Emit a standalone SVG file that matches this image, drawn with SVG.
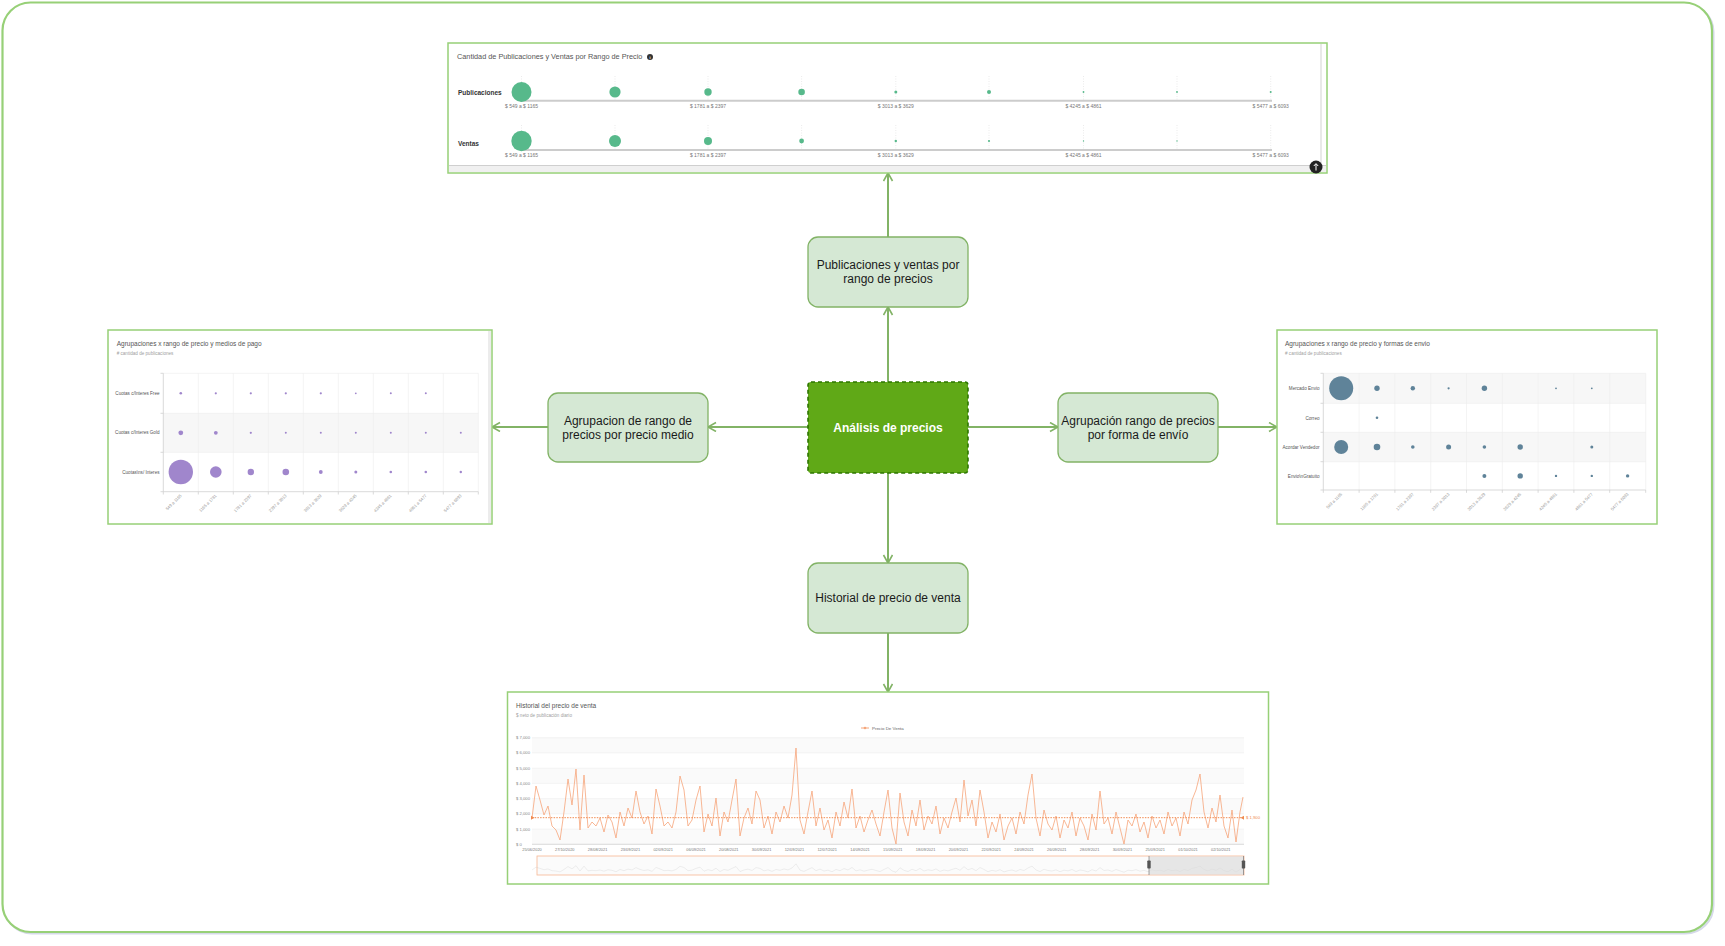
<svg xmlns="http://www.w3.org/2000/svg" xmlns:xlink="http://www.w3.org/1999/xlink" width="1725" height="946" viewBox="0 0 1725 946">
<style>
text{font-family:"Liberation Sans",Arial,sans-serif}
.node{fill:#d5e8d4;stroke:#82b366;stroke-width:1.3}
.ntxt{font-size:12px;fill:#1a1a1a;text-anchor:middle}
.shot{fill:#fff;stroke:#97d077;stroke-width:1.5}
.conn{stroke:#82b366;stroke-width:2;fill:none;marker-end:url(#arr)}
.t1{font-size:6.5px;fill:#555}
.t2{font-size:4.6px;fill:#a0a0a0}
.tiny{font-size:5px;fill:#777}
.lbl{font-size:4.6px;fill:#555;text-anchor:end}
.grid{stroke:#ececec;stroke-width:0.6}
.axis{stroke:#cfcfcf;stroke-width:0.8}
.band{fill:#f7f7f7}
.band2{fill:#fafafa}
.pg circle{fill:#57b98b}
.pp circle{fill:#a086cc}
.pb circle{fill:#5f8399}
.vd{stroke:#ddd;stroke-width:0.6;stroke-dasharray:1 1.5}
.rot{font-size:4.2px;fill:#999;text-anchor:end}
.dt{font-size:3.9px;fill:#777;text-anchor:middle}
</style>
<defs>
<marker id="arr" markerWidth="12" markerHeight="12" refX="9" refY="5" orient="auto" markerUnits="userSpaceOnUse">
<path d="M1,0.5 L9,5 L1,9.5" fill="none" stroke="#82b366" stroke-width="1.6"/>
</marker>
<path id="series" d="M532,818 L536,786 L540,800 L544,815 L548,806 L552,826 L556,830 L560,840 L564,812 L568,779 L572,805 L576,769 L580,830 L584,775 L588,828 L592,822 L596,826 L600,818 L604,832 L608,815 L612,822 L616,838 L620,812 L624,826 L628,808 L632,818 L636,791 L640,812 L644,824 L648,816 L652,834 L656,789 L660,806 L664,826 L668,822 L672,828 L676,812 L680,776 L684,790 L688,826 L692,820 L696,800 L700,786 L704,832 L708,814 L712,826 L716,798 L720,836 L724,812 L728,822 L732,800 L736,779 L740,836 L744,818 L748,808 L752,824 L756,791 L760,800 L764,828 L768,816 L772,834 L776,812 L780,822 L784,806 L788,818 L792,795 L796,748 L800,820 L804,834 L808,812 L812,791 L816,826 L820,808 L824,830 L828,820 L832,838 L836,812 L840,826 L844,802 L848,818 L852,789 L856,828 L860,816 L864,832 L868,820 L872,810 L876,824 L880,836 L884,812 L888,790 L892,828 L896,844 L900,793 L904,822 L908,836 L912,810 L916,826 L920,800 L924,830 L928,816 L932,824 L936,806 L940,834 L944,818 L948,828 L952,812 L956,798 L960,822 L964,780 L968,816 L972,800 L976,826 L980,790 L984,812 L988,838 L992,822 L996,832 L1000,814 L1004,840 L1008,826 L1012,818 L1016,834 L1020,812 L1024,824 L1028,795 L1032,774 L1036,818 L1040,836 L1044,810 L1048,824 L1052,830 L1056,816 L1060,838 L1064,820 L1068,828 L1072,812 L1076,836 L1080,818 L1084,826 L1088,840 L1092,814 L1096,830 L1100,791 L1104,824 L1108,818 L1112,834 L1116,812 L1120,828 L1124,844 L1128,820 L1132,826 L1136,814 L1140,832 L1144,822 L1148,838 L1152,816 L1156,828 L1160,820 L1164,834 L1168,812 L1172,826 L1176,818 L1180,836 L1184,812 L1188,824 L1192,800 L1196,790 L1200,774 L1204,812 L1208,828 L1212,808 L1216,822 L1220,795 L1224,826 L1228,838 L1232,810 L1236,842 L1240,812 L1243,797"/>
</defs>

<rect width="1725" height="946" fill="#fff"/>

<g id="frame">
<rect x="4" y="4" width="1709.5" height="929.5" rx="28" fill="none" stroke="#d6d9ea" stroke-width="2"/>
<rect x="2.5" y="2.5" width="1709.5" height="929.5" rx="28" fill="#fff" stroke="#97d077" stroke-width="2.2"/>
</g>

<g id="connectors">
<line class="conn" x1="888" y1="382" x2="888" y2="307"/>
<line class="conn" x1="888" y1="237" x2="888" y2="173"/>
<line class="conn" x1="808" y1="427" x2="708" y2="427"/>
<line class="conn" x1="548" y1="427" x2="492" y2="427"/>
<line class="conn" x1="968" y1="427" x2="1058" y2="427"/>
<line class="conn" x1="1218" y1="427" x2="1277" y2="427"/>
<line class="conn" x1="888" y1="473" x2="888" y2="563"/>
<line class="conn" x1="888" y1="633" x2="888" y2="692"/>
</g>

<g id="node-center">
<rect x="808" y="382" width="160" height="91" rx="3" fill="#60a917" stroke="#2d7600" stroke-width="1.6" stroke-dasharray="4 3"/>
<text x="888" y="431.5" style="font-size:12px;font-weight:bold;fill:#fff;text-anchor:middle">Análisis de precios</text>
</g>

<g id="node-top">
<rect class="node" x="808" y="237" width="160" height="70" rx="10"/>
<text class="ntxt" x="888" y="269">Publicaciones y ventas por</text>
<text class="ntxt" x="888" y="283">rango de precios</text>
</g>

<g id="node-left">
<rect class="node" x="548" y="393" width="160" height="69" rx="10"/>
<text class="ntxt" x="628" y="424.5">Agrupacion de rango de</text>
<text class="ntxt" x="628" y="438.5">precios por precio medio</text>
</g>

<g id="node-right">
<rect class="node" x="1058" y="393" width="160" height="69" rx="10"/>
<text class="ntxt" x="1138" y="424.5">Agrupación rango de precios</text>
<text class="ntxt" x="1138" y="438.5">por forma de envío</text>
</g>

<g id="node-bottom">
<rect class="node" x="808" y="563" width="160" height="70" rx="10"/>
<text class="ntxt" x="888" y="602">Historial de precio de venta</text>
</g>

<g id="shot-top">
<rect class="shot" x="448" y="43" width="879" height="130"/>
<line x1="1321" y1="44" x2="1321" y2="172" stroke="#e2e2e2" stroke-width="1.5"/>
<rect x="449" y="165" width="877" height="7" fill="#f0f0f0"/>
<line x1="449" y1="165.5" x2="1326" y2="165.5" stroke="#cfcfcf" stroke-width="1"/>
<text x="457" y="59" style="font-size:7.3px;fill:#555">Cantidad de Publicaciones y Ventas por Rango de Precio</text>
<circle cx="650" cy="57" r="3" fill="#333"/>
<text x="650" y="58.6" style="font-size:4px;fill:#fff;text-anchor:middle;font-weight:bold">i</text>
<text x="458" y="94.5" style="font-size:6.5px;fill:#333;font-weight:bold">Publicaciones</text>
<text x="458" y="145.5" style="font-size:6.5px;fill:#333;font-weight:bold">Ventas</text>
<g>
<line class="vd" x1="521.5" y1="76" x2="521.5" y2="100"/><line class="vd" x1="615" y1="76" x2="615" y2="100"/><line class="vd" x1="708" y1="76" x2="708" y2="100"/><line class="vd" x1="801.6" y1="76" x2="801.6" y2="100"/><line class="vd" x1="895.8" y1="76" x2="895.8" y2="100"/><line class="vd" x1="989" y1="76" x2="989" y2="100"/><line class="vd" x1="1083.5" y1="76" x2="1083.5" y2="100"/><line class="vd" x1="1177" y1="76" x2="1177" y2="100"/><line class="vd" x1="1270.7" y1="76" x2="1270.7" y2="100"/>
<line class="vd" x1="521.5" y1="125" x2="521.5" y2="149"/><line class="vd" x1="615" y1="125" x2="615" y2="149"/><line class="vd" x1="708" y1="125" x2="708" y2="149"/><line class="vd" x1="801.6" y1="125" x2="801.6" y2="149"/><line class="vd" x1="895.8" y1="125" x2="895.8" y2="149"/><line class="vd" x1="989" y1="125" x2="989" y2="149"/><line class="vd" x1="1083.5" y1="125" x2="1083.5" y2="149"/><line class="vd" x1="1177" y1="125" x2="1177" y2="149"/><line class="vd" x1="1270.7" y1="125" x2="1270.7" y2="149"/>
</g>
<line x1="520" y1="100.7" x2="1272" y2="100.7" stroke="#cccccc" stroke-width="2"/>
<line x1="520" y1="150" x2="1272" y2="150" stroke="#cccccc" stroke-width="2"/>
<g class="pg">
<circle cx="521.5" cy="92" r="10"/><circle cx="615" cy="92" r="5.6"/><circle cx="708" cy="92" r="3.7"/><circle cx="801.6" cy="92" r="3.3"/><circle cx="895.8" cy="92" r="1.5"/><circle cx="989" cy="92" r="2"/><circle cx="1083.5" cy="92" r="0.9"/><circle cx="1177" cy="92" r="0.9"/><circle cx="1270.7" cy="92" r="1"/>
<circle cx="521.5" cy="141" r="10.2"/><circle cx="615" cy="141" r="6"/><circle cx="708" cy="141" r="4"/><circle cx="801.6" cy="141" r="2.4"/><circle cx="895.8" cy="141" r="1.2"/><circle cx="989" cy="141" r="1.1"/><circle cx="1083.5" cy="141" r="0.7"/><circle cx="1177" cy="141" r="0.7"/>
</g>
<g class="tiny" text-anchor="middle">
<text x="521.5" y="107.8">$ 549 a $ 1165</text><text x="708" y="107.8">$ 1781 a $ 2397</text><text x="895.8" y="107.8">$ 3013 a $ 3629</text><text x="1083.5" y="107.8">$ 4245 a $ 4861</text><text x="1270.7" y="107.8">$ 5477 a $ 6093</text>
<text x="521.5" y="157.3">$ 549 a $ 1165</text><text x="708" y="157.3">$ 1781 a $ 2397</text><text x="895.8" y="157.3">$ 3013 a $ 3629</text><text x="1083.5" y="157.3">$ 4245 a $ 4861</text><text x="1270.7" y="157.3">$ 5477 a $ 6093</text>
</g>
<circle cx="1316" cy="167" r="6.5" fill="#222"/>
<path d="M1316,170.5 L1316,164 M1313.8,166 L1316,163.6 L1318.2,166" stroke="#fff" stroke-width="1" fill="none"/>
</g>

<g id="shot-left">
<rect class="shot" x="108" y="330" width="384" height="194"/>
<rect x="488" y="331" width="3" height="192" fill="#ececec"/>
<text class="t1" x="116.7" y="346">Agrupaciones x rango de precio y medios de pago</text>
<text class="t2" x="116.7" y="355"># cantidad de publicaciones</text>
<rect class="band" x="163.3" y="413.3" width="315" height="39"/>
<g class="grid">
<line x1="163.3" y1="373.3" x2="478.3" y2="373.3"/><line x1="163.3" y1="413.3" x2="478.3" y2="413.3"/><line x1="163.3" y1="452.3" x2="478.3" y2="452.3"/>
<line x1="198.3" y1="373.3" x2="198.3" y2="491.7"/><line x1="233.3" y1="373.3" x2="233.3" y2="491.7"/><line x1="268.3" y1="373.3" x2="268.3" y2="491.7"/><line x1="303.3" y1="373.3" x2="303.3" y2="491.7"/><line x1="338.3" y1="373.3" x2="338.3" y2="491.7"/><line x1="373.3" y1="373.3" x2="373.3" y2="491.7"/><line x1="408.3" y1="373.3" x2="408.3" y2="491.7"/><line x1="443.3" y1="373.3" x2="443.3" y2="491.7"/><line x1="478.3" y1="373.3" x2="478.3" y2="491.7"/>
</g>
<g class="axis">
<line x1="163.3" y1="373.3" x2="163.3" y2="491.7"/><line x1="163.3" y1="491.7" x2="478.3" y2="491.7"/>
<line x1="160.5" y1="373.3" x2="163.3" y2="373.3"/><line x1="160.5" y1="413.3" x2="163.3" y2="413.3"/><line x1="160.5" y1="452.3" x2="163.3" y2="452.3"/><line x1="160.5" y1="491.7" x2="163.3" y2="491.7"/>
<line x1="163.3" y1="491.7" x2="163.3" y2="494.5"/><line x1="198.3" y1="491.7" x2="198.3" y2="494.5"/><line x1="233.3" y1="491.7" x2="233.3" y2="494.5"/><line x1="268.3" y1="491.7" x2="268.3" y2="494.5"/><line x1="303.3" y1="491.7" x2="303.3" y2="494.5"/><line x1="338.3" y1="491.7" x2="338.3" y2="494.5"/><line x1="373.3" y1="491.7" x2="373.3" y2="494.5"/><line x1="408.3" y1="491.7" x2="408.3" y2="494.5"/><line x1="443.3" y1="491.7" x2="443.3" y2="494.5"/><line x1="478.3" y1="491.7" x2="478.3" y2="494.5"/>
</g>
<text class="lbl" x="159.5" y="395">Cuotas c/Interes Free</text>
<text class="lbl" x="159.5" y="434.4">Cuotas c/Interes Gold</text>
<text class="lbl" x="159.5" y="473.6">Cuotas\ns/ Interes</text>
<g class="pp">
<circle cx="180.8" cy="393.3" r="1.3"/><circle cx="215.8" cy="393.3" r="1.1"/><circle cx="250.8" cy="393.3" r="1.1"/><circle cx="285.8" cy="393.3" r="1.1"/><circle cx="320.8" cy="393.3" r="1.1"/><circle cx="355.8" cy="393.3" r="0.9"/><circle cx="390.8" cy="393.3" r="1"/><circle cx="425.8" cy="393.3" r="1"/>
<circle cx="180.8" cy="432.8" r="2.4"/><circle cx="215.8" cy="432.8" r="1.9"/><circle cx="250.8" cy="432.8" r="1.1"/><circle cx="285.8" cy="432.8" r="1"/><circle cx="320.8" cy="432.8" r="1"/><circle cx="355.8" cy="432.8" r="1"/><circle cx="390.8" cy="432.8" r="1"/><circle cx="425.8" cy="432.8" r="1"/><circle cx="460.8" cy="432.8" r="1"/>
<circle cx="180.8" cy="472" r="12.2"/><circle cx="215.8" cy="472" r="5.8"/><circle cx="250.8" cy="472" r="3.2"/><circle cx="285.8" cy="472" r="3.3"/><circle cx="320.8" cy="472" r="1.9"/><circle cx="355.8" cy="472" r="1.5"/><circle cx="390.8" cy="472" r="1.3"/><circle cx="425.8" cy="472" r="1.3"/><circle cx="460.8" cy="472" r="1.2"/>
</g>
<g class="rot">
<text transform="translate(182,496) rotate(-45)">549 a 1165</text>
<text transform="translate(217,496) rotate(-45)">1165 a 1781</text>
<text transform="translate(252,496) rotate(-45)">1781 a 2397</text>
<text transform="translate(287,496) rotate(-45)">2397 a 3013</text>
<text transform="translate(322,496) rotate(-45)">3013 a 3629</text>
<text transform="translate(357,496) rotate(-45)">3629 a 4245</text>
<text transform="translate(392,496) rotate(-45)">4245 a 4861</text>
<text transform="translate(427,496) rotate(-45)">4861 a 5477</text>
<text transform="translate(462,496) rotate(-45)">5477 a 6093</text>
</g>
</g>

<g id="shot-right">
<rect class="shot" x="1277" y="330" width="380" height="194"/>
<text class="t1" x="1285" y="346">Agrupaciones x rango de precio y formas de envio</text>
<text class="t2" x="1285" y="355"># cantidad de publicaciones</text>
<rect class="band" x="1323.3" y="373.3" width="322.4" height="30"/>
<rect class="band" x="1323.3" y="432.3" width="322.4" height="29.4"/>
<g class="grid">
<line x1="1323.3" y1="373.3" x2="1645.7" y2="373.3"/><line x1="1323.3" y1="403.3" x2="1645.7" y2="403.3"/><line x1="1323.3" y1="432.3" x2="1645.7" y2="432.3"/><line x1="1323.3" y1="461.7" x2="1645.7" y2="461.7"/>
<line x1="1359.1" y1="373.3" x2="1359.1" y2="490"/><line x1="1394.9" y1="373.3" x2="1394.9" y2="490"/><line x1="1430.7" y1="373.3" x2="1430.7" y2="490"/><line x1="1466.5" y1="373.3" x2="1466.5" y2="490"/><line x1="1502.3" y1="373.3" x2="1502.3" y2="490"/><line x1="1538.1" y1="373.3" x2="1538.1" y2="490"/><line x1="1573.9" y1="373.3" x2="1573.9" y2="490"/><line x1="1609.7" y1="373.3" x2="1609.7" y2="490"/><line x1="1645.7" y1="373.3" x2="1645.7" y2="490"/>
</g>
<g class="axis">
<line x1="1323.3" y1="373.3" x2="1323.3" y2="490"/><line x1="1323.3" y1="490" x2="1645.7" y2="490"/>
<line x1="1320.5" y1="373.3" x2="1323.3" y2="373.3"/><line x1="1320.5" y1="403.3" x2="1323.3" y2="403.3"/><line x1="1320.5" y1="432.3" x2="1323.3" y2="432.3"/><line x1="1320.5" y1="461.7" x2="1323.3" y2="461.7"/><line x1="1320.5" y1="490" x2="1323.3" y2="490"/>
<line x1="1323.3" y1="490" x2="1323.3" y2="492.8"/><line x1="1359.1" y1="490" x2="1359.1" y2="492.8"/><line x1="1394.9" y1="490" x2="1394.9" y2="492.8"/><line x1="1430.7" y1="490" x2="1430.7" y2="492.8"/><line x1="1466.5" y1="490" x2="1466.5" y2="492.8"/><line x1="1502.3" y1="490" x2="1502.3" y2="492.8"/><line x1="1538.1" y1="490" x2="1538.1" y2="492.8"/><line x1="1573.9" y1="490" x2="1573.9" y2="492.8"/><line x1="1609.7" y1="490" x2="1609.7" y2="492.8"/><line x1="1645.7" y1="490" x2="1645.7" y2="492.8"/>
</g>
<text class="lbl" x="1319.5" y="390">Mercado Envio</text>
<text class="lbl" x="1319.5" y="419.5">Correo</text>
<text class="lbl" x="1319.5" y="448.7">Acordar Vendedor</text>
<text class="lbl" x="1319.5" y="477.6">Envio\nGratuito</text>
<g class="pb">
<circle cx="1341.2" cy="388.3" r="12"/><circle cx="1377" cy="388.3" r="2.7"/><circle cx="1412.8" cy="388.3" r="2.2"/><circle cx="1448.6" cy="388.3" r="1.1"/><circle cx="1484.4" cy="388.3" r="2.7"/><circle cx="1556" cy="388.3" r="0.9"/><circle cx="1591.8" cy="388.3" r="0.9"/>
<circle cx="1377" cy="417.8" r="1.3"/>
<circle cx="1341.2" cy="447" r="7"/><circle cx="1377" cy="447" r="3.3"/><circle cx="1412.8" cy="447" r="1.8"/><circle cx="1448.6" cy="447" r="2.5"/><circle cx="1484.4" cy="447" r="1.8"/><circle cx="1520.2" cy="447" r="2.7"/><circle cx="1591.8" cy="447" r="1.5"/>
<circle cx="1484.4" cy="475.9" r="2"/><circle cx="1520.2" cy="475.9" r="2.7"/><circle cx="1556" cy="475.9" r="1.2"/><circle cx="1591.8" cy="475.9" r="1.2"/><circle cx="1627.6" cy="475.9" r="1.7"/>
</g>
<g class="rot">
<text transform="translate(1342.5,494.5) rotate(-45)">549 a 1165</text>
<text transform="translate(1378.3,494.5) rotate(-45)">1165 a 1781</text>
<text transform="translate(1414.1,494.5) rotate(-45)">1781 a 2397</text>
<text transform="translate(1449.9,494.5) rotate(-45)">2397 a 3013</text>
<text transform="translate(1485.7,494.5) rotate(-45)">3013 a 3629</text>
<text transform="translate(1521.5,494.5) rotate(-45)">3629 a 4245</text>
<text transform="translate(1557.3,494.5) rotate(-45)">4245 a 4861</text>
<text transform="translate(1593.1,494.5) rotate(-45)">4861 a 5477</text>
<text transform="translate(1628.9,494.5) rotate(-45)">5477 a 6093</text>
</g>
</g>

<g id="shot-bottom">
<rect class="shot" x="507.5" y="692" width="761" height="192"/>
<text class="t1" x="516" y="708">Historial del precio de venta</text>
<text class="t2" x="516" y="716.5">$ neto de publicación diario</text>
<line x1="861" y1="728" x2="869" y2="728" stroke="#f5a77c" stroke-width="1"/>
<circle cx="865" cy="728" r="1.3" fill="#f5a77c"/>
<text x="872" y="729.6" style="font-size:4.4px;fill:#666">Precio De Venta</text>
<rect class="band2" x="532" y="737.7" width="712" height="15.2"/>
<rect class="band2" x="532" y="768.2" width="712" height="15.2"/>
<rect class="band2" x="532" y="798.7" width="712" height="15.2"/>
<rect class="band2" x="532" y="829.2" width="712" height="15.1"/>
<g class="grid">
<line x1="532" y1="737.7" x2="1244" y2="737.7"/><line x1="532" y1="752.9" x2="1244" y2="752.9"/><line x1="532" y1="768.2" x2="1244" y2="768.2"/><line x1="532" y1="783.4" x2="1244" y2="783.4"/><line x1="532" y1="798.6" x2="1244" y2="798.6"/><line x1="532" y1="813.9" x2="1244" y2="813.9"/><line x1="532" y1="829.1" x2="1244" y2="829.1"/>
</g>
<line class="axis" x1="532" y1="844.3" x2="1244" y2="844.3"/>
<g style="font-size:4.2px;fill:#888">
<text x="516" y="739.2">$ 7,000</text><text x="516" y="754.4">$ 6,000</text><text x="516" y="769.7">$ 5,000</text><text x="516" y="784.9">$ 4,000</text><text x="516" y="800.1">$ 3,000</text><text x="516" y="815.4">$ 2,000</text><text x="516" y="830.6">$ 1,000</text><text x="516" y="845.8">$ 0</text>
</g>
<use xlink:href="#series" href="#series" fill="none" stroke="#f6a47a" stroke-width="0.8"/>
<line x1="532" y1="817.7" x2="1243" y2="817.7" stroke="#f08a50" stroke-width="1" stroke-dasharray="1.5 1.2"/>
<path d="M531,815.7 L534.5,817.7 L531,819.7 Z M1244,815.7 L1240.5,817.7 L1244,819.7 Z" fill="#f08a50"/>
<text x="1246" y="819" style="font-size:4.2px;fill:#f08a50">$ 1,900</text>
<g class="dt">
<text x="532" y="850.5">25/06/2020</text><text x="564.8" y="850.5">27/10/2020</text><text x="597.6" y="850.5">28/08/2021</text><text x="630.4" y="850.5">23/09/2021</text><text x="663.2" y="850.5">02/09/2021</text><text x="696" y="850.5">06/09/2021</text><text x="728.8" y="850.5">20/08/2021</text><text x="761.6" y="850.5">30/09/2021</text><text x="794.4" y="850.5">12/09/2021</text><text x="827.2" y="850.5">12/07/2021</text><text x="860" y="850.5">14/09/2021</text><text x="892.8" y="850.5">15/09/2021</text><text x="925.6" y="850.5">18/09/2021</text><text x="958.4" y="850.5">20/09/2021</text><text x="991.2" y="850.5">22/09/2021</text><text x="1024" y="850.5">24/09/2021</text><text x="1056.8" y="850.5">26/09/2021</text><text x="1089.6" y="850.5">28/09/2021</text><text x="1122.4" y="850.5">30/09/2021</text><text x="1155.2" y="850.5">25/09/2021</text><text x="1188" y="850.5">01/10/2021</text><text x="1220.8" y="850.5">02/10/2021</text>
</g>
<rect x="537" y="856" width="707" height="19" fill="#fbfbfb" stroke="#f7b793" stroke-width="0.8"/>
<use xlink:href="#series" href="#series" fill="none" stroke="#c4c4c4" stroke-width="0.5" transform="translate(0,798) scale(1,0.088)" vector-effect="non-scaling-stroke"/>
<rect x="1149" y="856.4" width="95" height="18.2" fill="#d8d8d8" opacity="0.6"/>
<line x1="1149" y1="856" x2="1149" y2="875" stroke="#666" stroke-width="0.6"/>
<line x1="1243.5" y1="856" x2="1243.5" y2="875" stroke="#666" stroke-width="0.6"/>
<rect x="1147.3" y="860.5" width="3.4" height="8" rx="0.8" fill="#555"/>
<rect x="1241.8" y="860.5" width="3.4" height="8" rx="0.8" fill="#555"/>
</g>
</svg>
